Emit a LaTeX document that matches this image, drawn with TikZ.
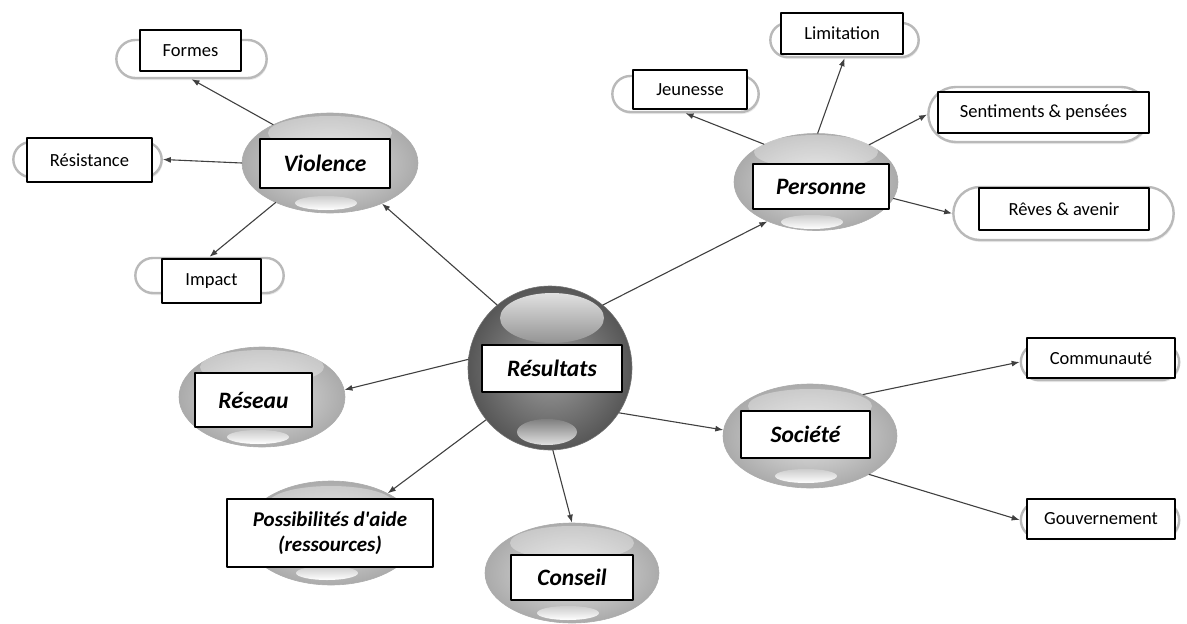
\documentclass[tikz,border=0pt]{standalone}
\usepackage{fontspec}
\setmainfont{Carlito}
\usetikzlibrary{positioning,arrows.meta,calc,shapes.geometric,shapes.misc,shadows}

\begin{document}
\begin{tikzpicture}[
    x=1pt, y=-1pt,
    line join=round,
    line cap=round,
    >=Latex,
    hub/.style={ellipse, shade, inner color=gray!22, outer color=gray!66, draw=gray!65,
        line width=0.6pt, minimum width=174pt, minimum height=100pt},
    ball/.style={circle, shade, inner color=black!38, outer color=black!66, draw=black!55,
        line width=0.6pt, minimum size=164pt},
    pill/.style={rounded rectangle, draw=gray!55, fill=white, line width=2.4pt,
        drop shadow={opacity=0.18, shadow xshift=1pt, shadow yshift=-2pt}},
    lblbox/.style={draw, fill=white, line width=1.4pt, inner sep=2pt, align=center},
    leaf/.style={lblbox, font=\fontsize{18.5}{21}\selectfont},
    topic/.style={lblbox, font=\fontsize{23.5}{26}\selectfont\bfseries\itshape},
    flow/.style={-{Latex[length=8pt,width=6pt]}, line width=1.1pt, black!75}
]
\useasboundingbox (0,0) rectangle (1187,624);

% Hubs
\node[ball] (resultats) at (550,368) {};
\node[hub, minimum width=176pt] (violence) at (330,163) {};
\node[hub, minimum width=164pt, minimum height=97pt] (personne) at (816,182) {};
\node[hub, minimum width=166pt] (reseau) at (262,397) {};
\node[hub, minimum height=104pt] (aide) at (331,533) {};
\node[hub] (conseil) at (572,573) {};
\node[hub, minimum height=104pt] (societe) at (810,436) {};

% highlights
\foreach \n in {violence,personne,reseau,aide,conseil,societe}{
  \fill[white, opacity=0.35] ($(\n.center)+(0,-30)$) ellipse (62 and 17);
  \shade[top color=gray!40, bottom color=white] ($(\n.center)+(-4,40)$) ellipse (31 and 7);
}
\shade[top color=black!12, bottom color=black!42] (552,318) ellipse (52 and 25);
\shade[top color=black!50, bottom color=black!12] (547,432) ellipse (30 and 13);

% Leaves (pills)
\node[pill, minimum width=157pt, minimum height=38pt] (formes) at (191.5,59) {};
\node[pill, minimum width=155pt, minimum height=35pt] (resistance) at (87.5,159.5) {};
\node[pill, minimum width=155pt, minimum height=35pt] (impact) at (209.5,275.5) {};
\node[pill, minimum width=153pt, minimum height=36pt] (jeunesse) at (685.5,94) {};
\node[pill, minimum width=155pt, minimum height=34pt] (limitation) at (844.5,40) {};
\node[pill, minimum width=227pt, minimum height=55pt] (sentiments) at (1038.5,114.5) {};
\node[pill, minimum width=227pt, minimum height=53pt] (reves) at (1063.5,213.5) {};
\node[pill, minimum width=165pt, minimum height=36pt] (communaute) at (1100,362) {};
\node[pill, minimum width=165pt, minimum height=36pt] (gouvernement) at (1100,520) {};

% Flow arrows
\draw[flow] (resultats.130) -- (violence.-38);
\draw[flow] (resultats.50) -- (personne.219);
\draw[flow] (resultats.174) -- (reseau.5);
\draw[flow] (resultats.219) -- (aide.35);
\draw[flow] (resultats.-88) -- (conseil.north);
\draw[flow] (resultats.-33) -- (societe.176);
\draw[flow] (violence.146) -- (formes.south);
\draw[flow] (violence.west) -- (resistance.east);
\draw[flow] (violence.216) -- (impact.north);
\draw[flow] (personne.144) -- (jeunesse.south);
\draw[flow] (personne.88) -- (limitation.south);
\draw[flow] (personne.35) -- (sentiments.west);
\draw[flow] (personne.-12) -- (reves.west);
\draw[flow] (societe.38) -- (communaute.west);
\draw[flow] (societe.-33) -- (gouvernement.west);

% Labels
\node[topic, minimum width=140pt, minimum height=47pt] (resultatslbl) at (552,368.5) {Résultats};
\node[topic, minimum width=130pt, minimum height=49pt] (violencelbl) at (325,163.5) {Violence};
\node[topic, minimum width=136pt, minimum height=45pt] (personnelbl) at (821,186.5) {Personne};
\node[topic, minimum width=117pt, minimum height=54pt] (reseaulbl) at (253.5,400) {Réseau};
\node[topic, minimum width=206pt, minimum height=68pt, font=\fontsize{21}{25}\selectfont\bfseries\itshape]
    (aidelbl) at (330,533) {Possibilités d\textquotesingle aide\\(ressources)};
\node[topic, minimum width=122pt, minimum height=45pt] (conseillbl) at (572,577.5) {Conseil};
\node[topic, minimum width=129pt, minimum height=47pt] (societelbl) at (805.5,434.5) {Société};

\node[leaf, minimum width=101pt, minimum height=41pt] (formeslbl) at (190.5,50.5) {Formes};
\node[leaf, minimum width=125pt, minimum height=44pt] (resistancelbl) at (89.5,160) {Résistance};
\node[leaf, minimum width=99pt, minimum height=44pt] (impactlbl) at (211.5,281) {Impact};
\node[leaf, minimum width=114pt, minimum height=39pt] (jeunesselbl) at (690,89.5) {Jeunesse};
\node[leaf, minimum width=122pt, minimum height=41pt] (limitationlbl) at (842,33.5) {Limitation};
\node[leaf, minimum width=211pt, minimum height=41pt] (sentimentslbl) at (1043.5,112.5) {Sentiments \& pensées};
\node[leaf, minimum width=170pt, minimum height=42pt] (reveslbl) at (1064,209) {Rêves \& avenir};
\node[leaf, minimum width=148pt, minimum height=40pt] (communautelbl) at (1101,358) {Communauté};
\node[leaf, minimum width=148pt, minimum height=40pt] (gouvernementlbl) at (1101,519) {Gouvernement};

\end{tikzpicture}
\end{document}
